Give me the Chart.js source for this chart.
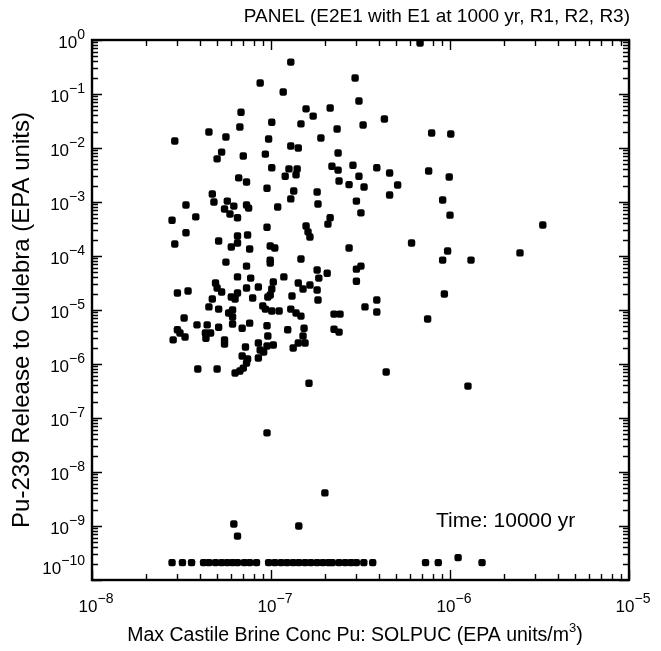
<!DOCTYPE html>
<html>
<head>
<meta charset="utf-8">
<script src="https://cdn.jsdelivr.net/npm/chart.js@4"></script>
<style>
    html, body { margin: 0; padding: 0; background: #fff; }
</style>
</head>
<body>
<canvas id="myChart" width="661" height="651"></canvas>
<script>
// Max Castile brine conc Pu (EPA units/m3) and Pu-239 release (EPA units)
const concPu = [
    1.29e-7, 8.7e-8, 1.17e-7, 2.95e-7, 3.1e-7, 6.8e-8, 1.57e-7, 1.72e-7, 2.14e-7, 1.01e-7,
    1.47e-7, 6.7e-8, 2.34e-7, 3.27e-7, 4.5e-8, 2.9e-8, 5.6e-8, 9.7e-8, 1.9e-7, 1.29e-7,
    1.42e-7, 5.3e-8, 5.0e-8, 7.0e-8, 9.3e-8, 2.37e-7, 1.01e-7, 1.26e-7, 1.4e-7, 1.2e-7,
    1.38e-7, 2.19e-7, 2.37e-7, 2.87e-7, 3.1e-7, 3.9e-7, 6.6e-8, 7.3e-8, 9.5e-8, 2.4e-7,
    2.73e-7, 3.31e-7, 4.7e-8, 1.34e-7, 1.81e-7, 4.8e-8, 5.7e-8, 6.2e-8, 5.5e-8, 7.3e-8,
    7.5e-8, 1.29e-7, 1.09e-7, 1.83e-7, 3.0e-7, 3.35e-8, 5.9e-8, 6.5e-8, 3.8e-8, 2.8e-8,
    3.18e-7, 2.14e-7, 2.08e-7, 9.5e-8, 1.57e-7,
    6.8e-7, 4.3e-7, 7.9e-7, 1.01e-6, 4.6e-7, 5.1e-7, 4.6e-7, 7.6e-7, 9.9e-7, 9.1e-7, 1.0e-6, 3.3e-6,
    3.35e-8, 1.61e-7, 1.65e-7, 2.9e-8, 5.1e-8, 6.5e-8, 7.4e-8, 6.0e-8, 6.5e-8, 7.6e-8,
    9.9e-8, 1.05e-7, 9.9e-8, 9.9e-8, 2.73e-7, 5.6e-8, 7.3e-8, 1.47e-7, 3.0e-7, 3.18e-7,
    3.0e-7, 1.81e-7, 2.06e-7, 6.5e-8, 7.7e-8, 1.18e-7, 4.9e-8, 5.0e-8, 5.3e-8, 7.3e-8,
    8.5e-8, 1.03e-7, 1.01e-7, 9.9e-8, 1.42e-7, 1.51e-7, 1.65e-7, 1.81e-7, 1.85e-7, 3.0e-8,
    3.44e-8, 6.0e-8, 6.5e-8, 6.3e-8, 4.7e-8, 7.9e-8, 9.6e-8, 1.31e-7, 1.83e-7, 9.0e-8,
    9.3e-8, 4.5e-8, 5.1e-8, 5.8e-8, 6.1e-8, 6.1e-8, 1.01e-7, 1.11e-7, 1.29e-7, 1.38e-7,
    1.47e-7, 2.25e-7, 2.43e-7, 3.35e-7, 3.9e-7, 3.9e-7, 3.27e-8, 3.86e-8, 4.4e-8, 5.1e-8,
    4.3e-8, 4.6e-8, 6.1e-8, 6.9e-8, 7.6e-8, 9.5e-8, 1.24e-7, 1.53e-7, 2.25e-7, 2.4e-7,
    3.0e-8, 3.1e-8, 3.31e-8, 2.84e-8, 4.33e-8, 5.5e-8, 5.5e-8, 9.6e-8, 1.51e-7, 7.2e-8,
    8.5e-8, 8.7e-8, 9.5e-8, 1.03e-7, 1.33e-7, 1.42e-7, 1.55e-7, 6.9e-8, 7.4e-8, 7.3e-8,
    8.5e-8, 9.1e-8, 3.9e-8, 5.0e-8, 6.3e-8, 6.7e-8, 7.0e-8, 1.63e-7,
    6.1e-7, 9.7e-7, 9.1e-7, 1.31e-6, 2.46e-6, 9.3e-7, 7.5e-7, 4.4e-7, 1.26e-6, 9.5e-8,
    2.0e-7, 6.2e-8, 6.5e-8, 1.43e-7,
];
const releasePu = [
    0.39, 0.16, 0.109, 0.198, 0.074, 0.046, 0.053, 0.039, 0.055, 0.030,
    0.028, 0.0245, 0.0225, 0.0267, 0.0198, 0.0135, 0.016, 0.0147, 0.0153, 0.0109,
    0.0100, 0.0084, 0.0063, 0.0071, 0.0077, 0.0081, 0.0043, 0.0041, 0.0041, 0.0030,
    0.0032, 0.0046, 0.0039, 0.0048, 0.0030, 0.0043, 0.0028, 0.00235, 0.0018, 0.00245,
    0.0021, 0.0019, 0.00141, 0.0016, 0.00153, 0.0010, 0.00104, 0.00084, 0.00074, 0.00088,
    0.00077, 0.00114, 0.00081, 0.00092, 0.00104, 0.00088, 0.0006, 0.00051, 0.00053, 0.00046,
    0.00063, 0.00051, 0.00039, 0.00034, 0.00036,
    0.88, 0.0344, 0.019, 0.0182, 0.00344, 0.00206, 0.00135, 0.00375, 0.0029, 0.00109, 0.00057, 0.000375,
    2.7e-4, 2.8e-4, 2.25e-4, 1.67e-4, 1.9e-4, 2.35e-4, 2.45e-4, 1.47e-4, 1.74e-4, 1.35e-4,
    1.53e-4, 1.41e-4, 8.4e-5, 7.4e-5, 1.41e-4, 7.7e-5, 6.5e-5, 8.8e-5, 5.7e-5, 6.5e-5,
    3.4e-5, 5.5e-5, 4.8e-5, 4.1e-5, 3.9e-5, 4.1e-5, 3.16e-5, 2.55e-5, 2.15e-5, 2.55e-5,
    2.67e-5, 3.3e-5, 2.45e-5, 1.9e-5, 3.16e-5, 2.45e-5, 2.9e-5, 2.35e-5, 3.9e-5, 2.06e-5,
    2.25e-5, 1.74e-5, 2.06e-5, 1.6e-5, 1.6e-5, 1.67e-5, 1.74e-5, 1.82e-5, 1.53e-5, 1.19e-5,
    1.04e-5, 1.14e-5, 1.04e-5, 8.8e-6, 1.0e-5, 7.4e-6, 9.6e-6, 9.6e-6, 1.04e-5, 8.8e-6,
    7.7e-6, 8.4e-6, 8.4e-6, 1.14e-5, 1.53e-5, 9.2e-6, 7.1e-6, 5.3e-6, 5.3e-6, 4.8e-6,
    3.75e-6, 3.75e-6, 5.5e-6, 4.6e-6, 5.7e-6, 5.1e-6, 4.3e-6, 4.6e-6, 4.4e-6, 3.9e-6,
    4.3e-6, 3.75e-6, 3.16e-6, 2.8e-6, 3.0e-6, 2.8e-6, 2.35e-6, 3.3e-6, 3.3e-6, 2.06e-6,
    2.45e-6, 1.82e-6, 2.15e-6, 2.25e-6, 1.98e-6, 2.45e-6, 2.45e-6, 1.41e-6, 1.24e-6, 1.04e-6,
    1.29e-6, 1.67e-6, 8.1e-7, 8.1e-7, 6.8e-7, 7.4e-7, 8.4e-7, 4.4e-7,
    1.74e-4, 1.24e-4, 8.4e-5, 8.4e-5, 1.14e-4, 1.98e-5, 6.8e-6, 7.1e-7, 3.9e-7, 5.3e-8,
    4.1e-9, 1.09e-9, 6.5e-10, 1.0e-9,
];
// the row of vectors sitting on the floor of the plot
const floorConc = [
    2.8e-8, 3.2e-8, 3.6e-8, 4.2e-8, 4.5e-8, 4.9e-8, 5.3e-8, 5.7e-8, 6.1e-8, 6.5e-8,
    7.1e-8, 7.6e-8, 8.3e-8, 9.7e-8, 1.05e-7, 1.14e-7, 1.23e-7, 1.33e-7, 1.43e-7, 1.55e-7,
    1.67e-7, 1.81e-7, 1.95e-7, 2.1e-7, 2.2e-7, 2.4e-7, 2.6e-7, 2.8e-7, 3.0e-7, 3.3e-7,
    3.7e-7, 7.3e-7, 8.6e-7, 1.11e-6, 1.51e-6,
];
const floorRelease = [
    2.1e-10, 2.1e-10, 2.1e-10, 2.1e-10, 2.1e-10, 2.1e-10, 2.1e-10, 2.1e-10, 2.1e-10, 2.1e-10,
    2.1e-10, 2.1e-10, 2.1e-10, 2.1e-10, 2.1e-10, 2.1e-10, 2.1e-10, 2.1e-10, 2.1e-10, 2.1e-10,
    2.1e-10, 2.1e-10, 2.1e-10, 2.1e-10, 2.1e-10, 2.1e-10, 2.1e-10, 2.1e-10, 2.1e-10, 2.1e-10,
    2.1e-10, 2.1e-10, 2.1e-10, 2.6e-10, 2.1e-10,
];
const xTickExp = [-8, -7, -6, -5];
const yTickExp = [0, -1, -2, -3, -4, -5, -6, -7, -8, -9, -10];

const titleText = 'PANEL (E2E1 with E1 at 1000 yr, R1, R2, R3)';
const xTitle = 'Max Castile Brine Conc Pu: SOLPUC (EPA units/m';
const yTitle = 'Pu-239 Release to Culebra (EPA units)';
const timeText = 'Time: 10000 yr';

const FONT = '"Liberation Sans", Arial, Helvetica, sans-serif';

const toPoints = (xs, ys) => xs.map((x, i) => ({ x, y: ys[i] }));

// draws text pieces one after another, [text, size, dy]
const drawRuns = (ctx, runs, x, y, align) => {
    let w = 0;
    runs.forEach(([t, s]) => {
        ctx.font = `${s}px ${FONT}`;
        w += ctx.measureText(t).width;
    });
    let cx = x;
    if (align === 'right') cx = x - w;
    if (align === 'center') cx = x - w / 2;
    runs.forEach(([t, s, dy]) => {
        ctx.font = `${s}px ${FONT}`;
        ctx.fillText(t, cx, y + dy);
        cx += ctx.measureText(t).width;
    });
};

const powRuns = (e) => [['10', 17, 0], [String(e).replace('-', '\u2212'), 14, -8]];

const axesPlugin = {
    id: 'axesPlugin',
    afterDraw(chart) {
        const { ctx, chartArea: a, scales: { x, y } } = chart;
        ctx.save();
        ctx.strokeStyle = '#000';
        ctx.fillStyle = '#000';

        // inward ticks on all four sides
        ctx.lineWidth = 1.4;
        ctx.beginPath();
        for (let i = 0; i < xTickExp.length; i++) {
            const e = xTickExp[i];
            const last = i === xTickExp.length - 1;
            for (let m = 1; m < (last ? 2 : 10); m++) {
                const px = Math.round(x.getPixelForValue(m * Math.pow(10, e))) + 0.5;
                const len = m === 1 ? 10 : 6;
                ctx.moveTo(px, a.bottom); ctx.lineTo(px, a.bottom - len);
                ctx.moveTo(px, a.top); ctx.lineTo(px, a.top + len);
            }
        }
        for (let i = 0; i < yTickExp.length; i++) {
            const e = yTickExp[i];
            const last = i === yTickExp.length - 1;
            for (let m = 1; m < (last ? 2 : 10); m++) {
                const py = Math.round(y.getPixelForValue(m * Math.pow(10, e - (m > 1 ? 1 : 0)))) + 0.5;
                const len = m === 1 ? 10 : 6;
                ctx.moveTo(a.left, py); ctx.lineTo(a.left + len, py);
                ctx.moveTo(a.right, py); ctx.lineTo(a.right - len, py);
            }
        }
        ctx.stroke();

        ctx.lineWidth = 2.4;
        ctx.strokeRect(a.left, a.top, a.right - a.left, a.bottom - a.top);

        // tick labels
        ctx.textBaseline = 'middle';
        xTickExp.forEach((e) => {
            drawRuns(ctx, powRuns(e), x.getPixelForValue(Math.pow(10, e)) + 4, a.bottom + 27, 'center');
        });
        yTickExp.forEach((e) => {
            const py = Math.min(y.getPixelForValue(Math.pow(10, e)) + 3, a.bottom - 11);
            drawRuns(ctx, powRuns(e), a.left - 7, py, 'right');
        });

        // titles
        drawRuns(ctx, [[titleText, 19, 0]], 630, 17, 'right');
        drawRuns(ctx, [[xTitle, 19.5, 0], ['3', 13, -8], [')', 19.5, 0]], 355, 636, 'center');
        drawRuns(ctx, [[timeText, 21, 0]], 436, 521, 'left');

        ctx.translate(22, 320);
        ctx.rotate(-Math.PI / 2);
        drawRuns(ctx, [[yTitle, 24, 0]], 0, 0, 'center');
        ctx.restore();
    },
};

new Chart(document.getElementById('myChart'), {
    type: 'scatter',
    data: {
        datasets: [
            {
                data: toPoints(concPu, releasePu).concat(toPoints(floorConc, floorRelease)),
                pointStyle: 'rectRounded',
                pointRadius: 4.3,
                backgroundColor: '#000',
                borderColor: '#000',
                borderWidth: 0,
            },
        ],
    },
    options: {
        responsive: false,
        animation: false,
        devicePixelRatio: 1,
        events: [],
        layout: { padding: { left: 92, right: 32, top: 40, bottom: 71 } },
        plugins: {
            legend: { display: false },
            tooltip: { enabled: false },
        },
        scales: {
            x: { type: 'logarithmic', min: 1e-8, max: 1e-5, display: false },
            y: { type: 'logarithmic', min: 1e-10, max: 1, display: false },
        },
    },
    plugins: [axesPlugin],
});
</script>
</body>
</html>
